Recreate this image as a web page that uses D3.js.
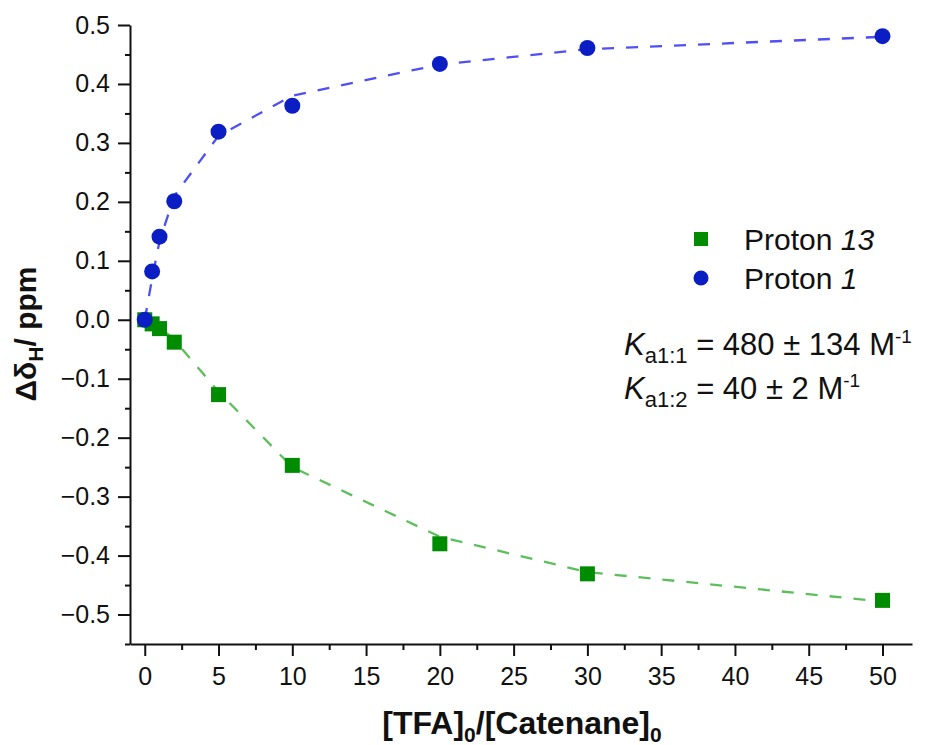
<!DOCTYPE html>
<html>
<head>
<meta charset="utf-8">
<script src="https://cdn.jsdelivr.net/npm/d3@7"></script>
<style>
  body { margin: 0; background: #fff; }
  svg { font-family: "Liberation Sans", Arial, sans-serif; }
</style>
</head>
<body>
<svg id="chart" width="927" height="745"></svg>
<script>
// ratio of [TFA]0/[Catenane]0
var ratios = [0, 0.5, 1, 2, 5, 10, 20, 30, 50];
// measured shifts (ppm)
var proton13 = [0, -0.007, -0.015, -0.038, -0.127, -0.247, -0.380, -0.431, -0.476];
var proton1 = [0, 0.082, 0.141, 0.201, 0.319, 0.363, 0.434, 0.461, 0.481];
// fitted curves at the same ratios
var fit13 = [0, -0.005, -0.012, -0.034, -0.122, -0.250, -0.368, -0.428, -0.478];
var fit1 = [0, 0.070, 0.133, 0.210, 0.312, 0.380, 0.433, 0.459, 0.480];

var xTicks = [0, 5, 10, 15, 20, 25, 30, 35, 40, 45, 50];
var yTicks = [-0.5, -0.4, -0.3, -0.2, -0.1, 0, 0.1, 0.2, 0.3, 0.4, 0.5];

var svg = d3.select('#chart');

var x = d3.scaleLinear().domain([-1, 52]).range([130, 912]),
    y = d3.scaleLinear().domain([-0.55, 0.5]).range([644, 25]);

/** axes: majors with labels, minors without */
var xMinor = d3.range(2.5, 52, 5);
var yMinor = d3.range(-0.55, 0.5, 0.1).map(function(d) { return +d.toFixed(2); });

var gx = svg.append('g').attr('transform', 'translate(0,644)');
gx.call(d3.axisBottom(x).tickValues(xTicks).tickSize(12).tickSizeOuter(0).tickPadding(11));
gx.append('g').call(d3.axisBottom(x).tickValues(xMinor).tickSize(6).tickFormat(''))
  .select('.domain').remove();

var gy = svg.append('g').attr('transform', 'translate(130,0)');
gy.call(d3.axisLeft(y).tickValues(yTicks).tickSize(12).tickSizeOuter(0).tickPadding(8)
  .tickFormat(d3.format('.1f')));
gy.append('g').call(d3.axisLeft(y).tickValues(yMinor).tickSize(5).tickFormat(''))
  .select('.domain').remove();

svg.selectAll('.tick line, .domain').attr('stroke', '#111').attr('stroke-width', 2);
svg.selectAll('.tick text').attr('font-size', 25).attr('fill', '#111')
  .attr('font-family', '"Liberation Sans", Arial, sans-serif');

/** fit lines */
var line = d3.line().x(function(d) { return x(d[0]); }).y(function(d) { return y(d[1]); });

svg.append('path')
  .datum(ratios.map(function(r, i) { return [r, fit13[i]]; }))
  .attr('d', line)
  .style('fill', 'none').style('stroke', '#5cbf5c').style('stroke-width', 2.3)
  .style('stroke-dasharray', '12,12');

svg.append('path')
  .datum(ratios.map(function(r, i) { return [r, fit1[i]]; }))
  .attr('d', line)
  .style('fill', 'none').style('stroke', '#4f4ff5').style('stroke-width', 2.3)
  .style('stroke-dasharray', '12,12');

/** markers */
svg.selectAll('.sq')
  .data(ratios.map(function(r, i) { return [r, proton13[i]]; }))
  .enter().append('rect')
  .attr('class', 'sq')
  .attr('x', function(d) { return x(d[0]) - 7.5; })
  .attr('y', function(d) { return y(d[1]) - 7.5; })
  .attr('width', 15).attr('height', 15)
  .style('fill', '#008c00');

svg.selectAll('.dot')
  .data(ratios.map(function(r, i) { return [r, proton1[i]]; }))
  .enter().append('circle')
  .attr('class', 'dot')
  .attr('cx', function(d) { return x(d[0]); })
  .attr('cy', function(d) { return y(d[1]); })
  .attr('r', 8)
  .style('fill', '#0a1ec4');

/** legend */
var legend = svg.append('g').attr('font-size', 30).attr('fill', '#111');
legend.append('rect').attr('x', 694).attr('y', 232).attr('width', 14).attr('height', 14).style('fill', '#008c00');
legend.append('circle').attr('cx', 701).attr('cy', 278).attr('r', 7.5).style('fill', '#0a1ec4');
var t1 = legend.append('text').attr('x', 744).attr('y', 250);
t1.append('tspan').text('Proton ');
t1.append('tspan').attr('font-style', 'italic').text('13');
var t2 = legend.append('text').attr('x', 744).attr('y', 289);
t2.append('tspan').text('Proton ');
t2.append('tspan').attr('font-style', 'italic').text('1');

/** association constants */
function kText(yPos, sub, rest) {
  var t = svg.append('text').attr('x', 624).attr('y', yPos).attr('font-size', 31).attr('fill', '#111');
  t.append('tspan').attr('font-style', 'italic').text('K');
  t.append('tspan').attr('font-size', 22).attr('dy', 8).text(sub);
  t.append('tspan').attr('dy', -8).text(' = ' + rest + ' M');
  t.append('tspan').attr('font-size', 19).attr('dy', -12).text('-1');
}
kText(355, 'a1:1', '480 ± 134');
kText(399, 'a1:2', '40 ± 2');

/** axis titles */
var xt = svg.append('text').attr('x', 522).attr('y', 734).attr('text-anchor', 'middle')
  .attr('font-size', 32).attr('font-weight', 'bold').attr('fill', '#111');
xt.append('tspan').text('[TFA]');
xt.append('tspan').attr('font-size', 21).attr('dy', 8).text('0');
xt.append('tspan').attr('dy', -8).text('/[Catenane]');
xt.append('tspan').attr('font-size', 21).attr('dy', 8).text('0');

var yt = svg.append('text').attr('transform', 'translate(36,334) rotate(-90)')
  .attr('text-anchor', 'middle').attr('font-size', 30).attr('font-weight', 'bold').attr('fill', '#111');
yt.append('tspan').text('Δδ');
yt.append('tspan').attr('font-size', 21).attr('dy', 7).text('H');
yt.append('tspan').attr('dy', -7).text('/ ppm');
</script>
</body>
</html>
